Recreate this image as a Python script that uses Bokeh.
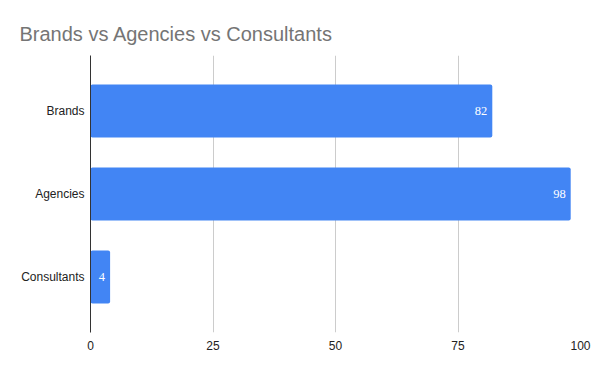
from bokeh.plotting import figure
from bokeh.models import Range1d, FixedTicker, ColumnDataSource, LabelSet
from bokeh.embed import file_html
from bokeh.resources import INLINE

categories = ["Brands", "Agencies", "Consultants"]
values = [82, 98, 4]
positions = [2, 1, 0]
x_ticks = [0, 25, 50, 75, 100]

src = ColumnDataSource(dict(y=positions, v=values, lab=[str(v) for v in values]))

p = figure(width=600, height=371, output_backend="svg", toolbar_location=None,
           x_range=Range1d(0, 100), y_range=Range1d(-0.67, 2.67),
           min_border_left=90, min_border_right=20, min_border_top=55, min_border_bottom=39)
p.outline_line_color = None
p.background_fill_color = "white"
p.border_fill_color = "white"

p.hbar(y="y", right="v", left=0, height=0.64, source=src,
       fill_color="#4285F4", line_color=None, border_radius=2)

labels = LabelSet(x="v", y="y", text="lab", source=src, x_offset=-5,
                  text_align="right", text_baseline="middle",
                  text_color="white", text_font_size="12.5px", text_font="Roboto")
p.add_layout(labels)

# axes
p.xaxis.ticker = FixedTicker(ticks=x_ticks)
p.xaxis.axis_line_color = None
p.xaxis.major_tick_line_color = None
p.xaxis.minor_tick_line_color = None
p.xaxis.major_tick_out = 0
p.xaxis.major_tick_in = 0
p.xaxis.major_label_text_font = "Liberation Sans"
p.xaxis.major_label_text_font_size = "12px"
p.xaxis.major_label_text_color = "#222222"
p.xaxis.major_label_standoff = 8

p.yaxis.ticker = FixedTicker(ticks=positions)
p.yaxis.major_label_overrides = {pos: c for pos, c in zip(positions, categories)}
p.yaxis.axis_line_color = "#333333"
p.yaxis.axis_line_width = 1
p.yaxis.major_tick_line_color = None
p.yaxis.minor_tick_line_color = None
p.yaxis.major_tick_out = 0
p.yaxis.major_tick_in = 0
p.yaxis.major_label_text_font = "Liberation Sans"
p.yaxis.major_label_text_font_size = "12px"
p.yaxis.major_label_text_color = "#222222"
p.yaxis.major_label_standoff = 6

p.xgrid.grid_line_color = "#cccccc"
p.ygrid.grid_line_color = None

p.title.text = "Brands vs Agencies vs Consultants"
p.title.text_font = "Liberation Sans"
p.title.text_font_size = "20px"
p.title.text_font_style = "normal"
p.title.text_color = "#757575"
p.title.align = "left"
p.title.offset = -71
p.title.standoff = 21

open("out.html", "w").write(file_html(p, INLINE))
